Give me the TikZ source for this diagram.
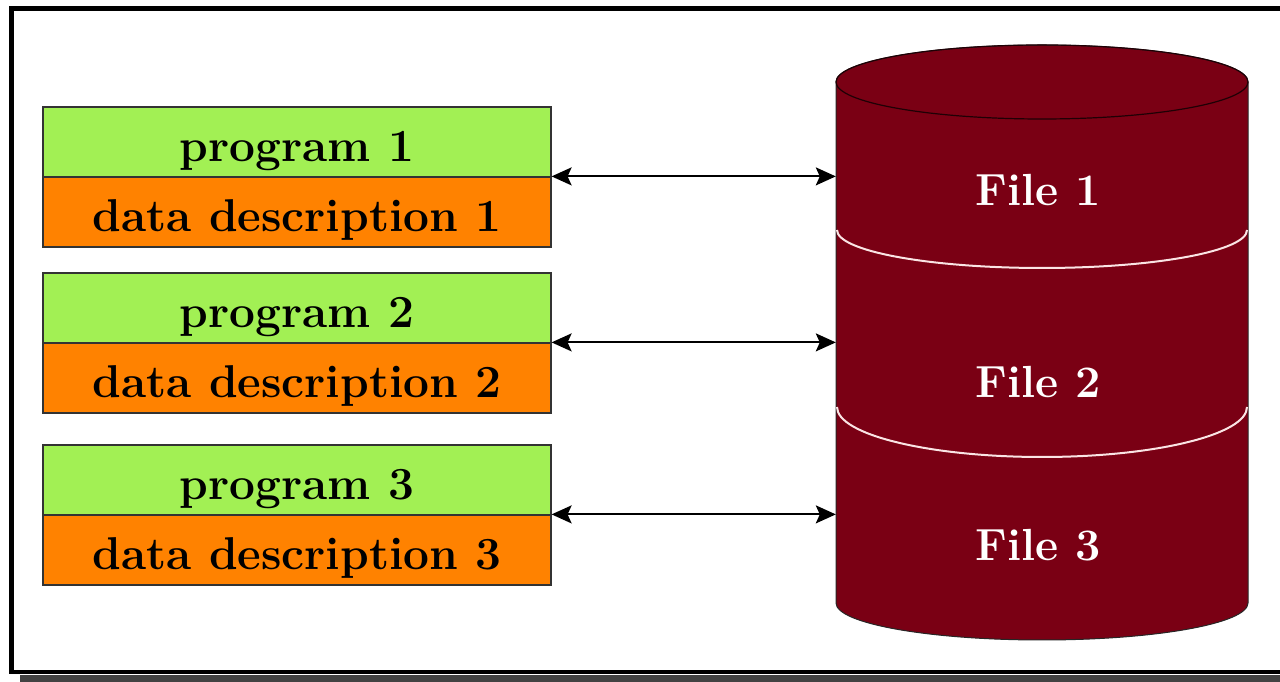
\documentclass[tikz,border=0pt]{standalone}
\usetikzlibrary{arrows.meta}
\definecolor{boxgreen}{RGB}{162,240,84}
\definecolor{boxorange}{RGB}{255,130,0}
\definecolor{cylred}{RGB}{122,0,20}
\definecolor{shadowgray}{RGB}{66,66,66}
\definecolor{arcwhite}{RGB}{250,228,228}
\tikzset{
  prog/.style={draw=black!80, line width=1.2pt, fill=boxgreen, minimum width=508pt,
    minimum height=70pt, inner sep=0pt, text height=40pt, text depth=0pt,
    font=\fontsize{46}{50}\selectfont\bfseries, text=black},
  desc/.style={prog, fill=boxorange},
  filelabel/.style={text=white, inner sep=0pt, font=\fontsize{45}{50}\selectfont\bfseries},
  link/.style={{Stealth[length=20pt,width=18pt,inset=4pt]}-{Stealth[length=20pt,width=18pt,inset=4pt]}, line width=1.8pt},
}
\begin{document}
\begin{tikzpicture}[x=1pt,y=1pt]
\useasboundingbox (0,0) rectangle (1280,682);
\clip (0,0) rectangle (1280,682);
% frame and shadow
\fill[shadowgray] (20,0) rectangle (1280,7);
\draw[line width=4.5pt] (11.5,10) rectangle (1300,673.5);
% boxes
\node[prog] (p1) at (297,540) {program 1};
\node[desc] (d1) at (297,470) {data description 1};
\node[prog] (p2) at (297,374) {program 2};
\node[desc] (d2) at (297,304) {data description 2};
\node[prog] (p3) at (297,202) {program 3};
\node[desc] (d3) at (297,132) {data description 3};
% cylinder
\fill[cylred] (836,600) -- (836,79) arc[start angle=180,end angle=360,x radius=206,y radius=37]
  -- (1248,600) arc[start angle=0,end angle=180,x radius=206,y radius=37] -- cycle;
\draw[black!85, line width=1pt] (836,600) -- (836,79) arc[start angle=180,end angle=360,x radius=206,y radius=37]
  -- (1248,600) arc[start angle=0,end angle=180,x radius=206,y radius=37] -- cycle;
\draw[black!75!cylred, line width=1.2pt] (1042,600) ellipse[x radius=206,y radius=37];
\draw[arcwhite, line width=2pt] (837,452) arc[start angle=180,end angle=360,x radius=205,y radius=38];
\draw[arcwhite, line width=2pt] (837,275) arc[start angle=180,end angle=360,x radius=205,y radius=50];
\node[minimum width=412pt, minimum height=521pt, inner sep=0pt] (cyl) at (1042,339.5) {};
\node[filelabel] (f1) at (1038,492) {File 1};
\node[filelabel] (f2) at (1038,300) {File 2};
\node[filelabel] (f3) at (1038,137) {File 3};
% connectors
\draw[link] (d1.north east) -- (d1.north east -| cyl.west);
\draw[link] (d2.north east) -- (d2.north east -| cyl.west);
\draw[link] (d3.north east) -- (d3.north east -| cyl.west);
\end{tikzpicture}
\end{document}
